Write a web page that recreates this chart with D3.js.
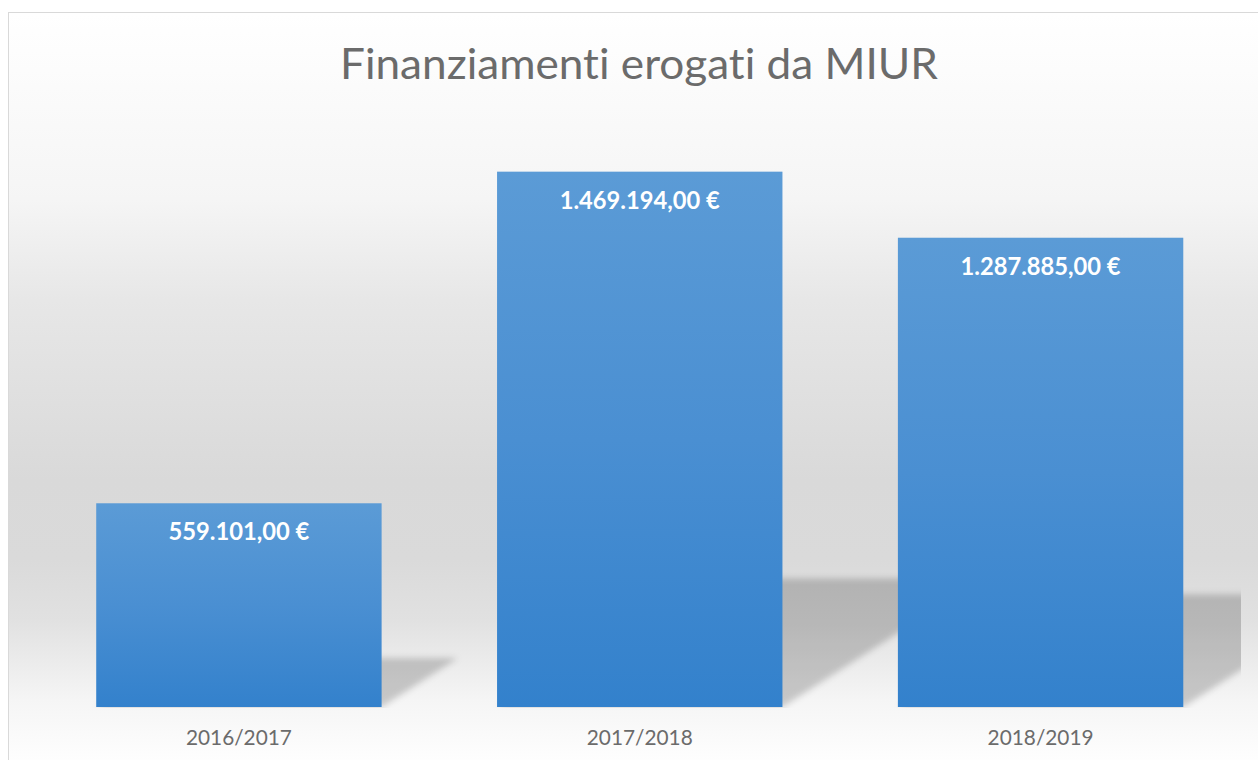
<!DOCTYPE html>
<html>
<head>
<meta charset="utf-8">
<script src="https://cdn.jsdelivr.net/npm/d3@7/dist/d3.min.js"></script>
<style>
  html, body { margin: 0; padding: 0; background: #ffffff; }
  svg { display: block; }
  text { font-variant-ligatures: none; font-feature-settings: "liga" 0, "clig" 0; }
</style>
</head>
<body>
<svg id="chart" width="1258" height="760"></svg>
<script>
// ---- data ----
const title = "Finanziamenti erogati da MIUR";
const categories = ["2016/2017", "2017/2018", "2018/2019"];
const values = [559101.00, 1469194.00, 1287885.00];
const valueLabels = ["559.101,00 €", "1.469.194,00 €", "1.287.885,00 €"];
const yMax = 1600000;

// ---- layout ----
const W = 1258, H = 760;
const plot = { left: 38.5, right: 1241, top: 124, bottom: 707 };

const svg = d3.select("#chart");
const defs = svg.append("defs");

// background gradient
const bg = defs.append("linearGradient").attr("id", "bgGrad")
  .attr("gradientUnits", "userSpaceOnUse")
  .attr("x1", 0).attr("x2", 0).attr("y1", 13).attr("y2", 760);
[[13, "#ffffff"], [200, "#f5f5f5"], [300, "#e7e7e7"], [480, "#d9d9d9"],
 [560, "#dadada"], [620, "#e1e1e1"], [700, "#f5f5f5"], [760, "#fefefe"]]
  .forEach(([y, c]) => bg.append("stop")
    .attr("offset", ((y - 13) / (760 - 13))).attr("stop-color", c));

// bar gradient
const bar = defs.append("linearGradient").attr("id", "barGrad")
  .attr("x1", 0).attr("x2", 0).attr("y1", 0).attr("y2", 1);
bar.append("stop").attr("offset", 0).attr("stop-color", "#5b9bd6");
bar.append("stop").attr("offset", 0.5).attr("stop-color", "#4a8fd2");
bar.append("stop").attr("offset", 1).attr("stop-color", "#3381cc");

// shadow blur
defs.append("filter").attr("id", "blur")
  .attr("x", "-20%").attr("y", "-20%").attr("width", "140%").attr("height", "140%")
  .append("feGaussianBlur").attr("stdDeviation", 3);

defs.append("clipPath").attr("id", "plotClip")
  .append("rect")
  .attr("x", plot.left).attr("y", 0)
  .attr("width", plot.right - plot.left).attr("height", plot.bottom + 1);

// chart area
svg.append("rect")
  .attr("x", 8.5).attr("y", 12.5)
  .attr("width", W + 20).attr("height", H + 20)
  .attr("fill", "url(#bgGrad)")
  .attr("stroke", "#d9d9d9").attr("stroke-width", 1);

// scales
const x = d3.scaleBand().domain(categories)
  .range([plot.left, plot.right])
  .paddingInner(0.288).paddingOuter(0.144);
const y = d3.scaleLinear().domain([0, yMax]).range([plot.bottom, plot.top]);

const data = categories.map((c, i) => ({ c, v: values[i], label: valueLabels[i] }));

// perspective shadows
const shadowScale = 0.24, slope = 0.64;
svg.append("g").attr("clip-path", "url(#plotClip)")
  .selectAll("path").data(data).join("path")
  .attr("d", d => {
    const x0 = x(d.c), x1 = x0 + x.bandwidth();
    const y0 = y(0);
    const sh = (y(0) - y(d.v)) * shadowScale;
    const dx = sh / slope;
    return `M${x0},${y0}L${x1},${y0}L${x1 + dx},${y0 - sh}L${x0 + dx},${y0 - sh}Z`;
  })
  .attr("fill", "#000").attr("fill-opacity", 0.19)
  .attr("filter", "url(#blur)");

// bars
svg.append("g").selectAll("rect").data(data).join("rect")
  .attr("x", d => x(d.c))
  .attr("y", d => y(d.v))
  .attr("width", x.bandwidth())
  .attr("height", d => y(0) - y(d.v))
  .attr("fill", "url(#barGrad)");

// helper to fit text width
function fit(sel, w) {
  sel.each(function () {
    const n = this.getComputedTextLength();
    if (Math.abs(n - w) > 1) {
      d3.select(this).attr("textLength", w).attr("lengthAdjust", "spacingAndGlyphs");
    }
  });
}

// value labels
svg.append("g").selectAll("text").data(data).join("text")
  .attr("x", d => x(d.c) + x.bandwidth() / 2)
  .attr("y", d => y(d.v) + 37)
  .attr("text-anchor", "middle")
  .attr("font-family", "Lato, 'Open Sans', sans-serif")
  .attr("font-weight", 700)
  .attr("font-size", 24)
  .attr("fill", "#ffffff")
  .text(d => d.label)
  .each(function (d) {
    fit(d3.select(this), d.label.length === 12 ? 141 : 160);
  });

// x axis labels
const xAxis = d3.axisBottom(x).tickSize(0).tickPadding(0);
const gx = svg.append("g").attr("transform", `translate(0,${plot.bottom})`).call(xAxis);
gx.select(".domain").remove();
gx.selectAll("text")
  .attr("dy", null)
  .attr("y", 38)
  .attr("font-family", "Lato, 'Open Sans', sans-serif")
  .attr("font-size", 22)
  .attr("fill", "#6b6b6b")
  .each(function () { fit(d3.select(this), 106); });

// title
svg.append("text")
  .attr("x", 639).attr("y", 79)
  .attr("text-anchor", "middle")
  .attr("font-family", "Lato, 'Open Sans', sans-serif")
  .attr("font-weight", 400)
  .attr("font-size", 43)
  .attr("fill", "#6b6b6b")
  .text(title)
  .call(fit, 598);
</script>
</body>
</html>
